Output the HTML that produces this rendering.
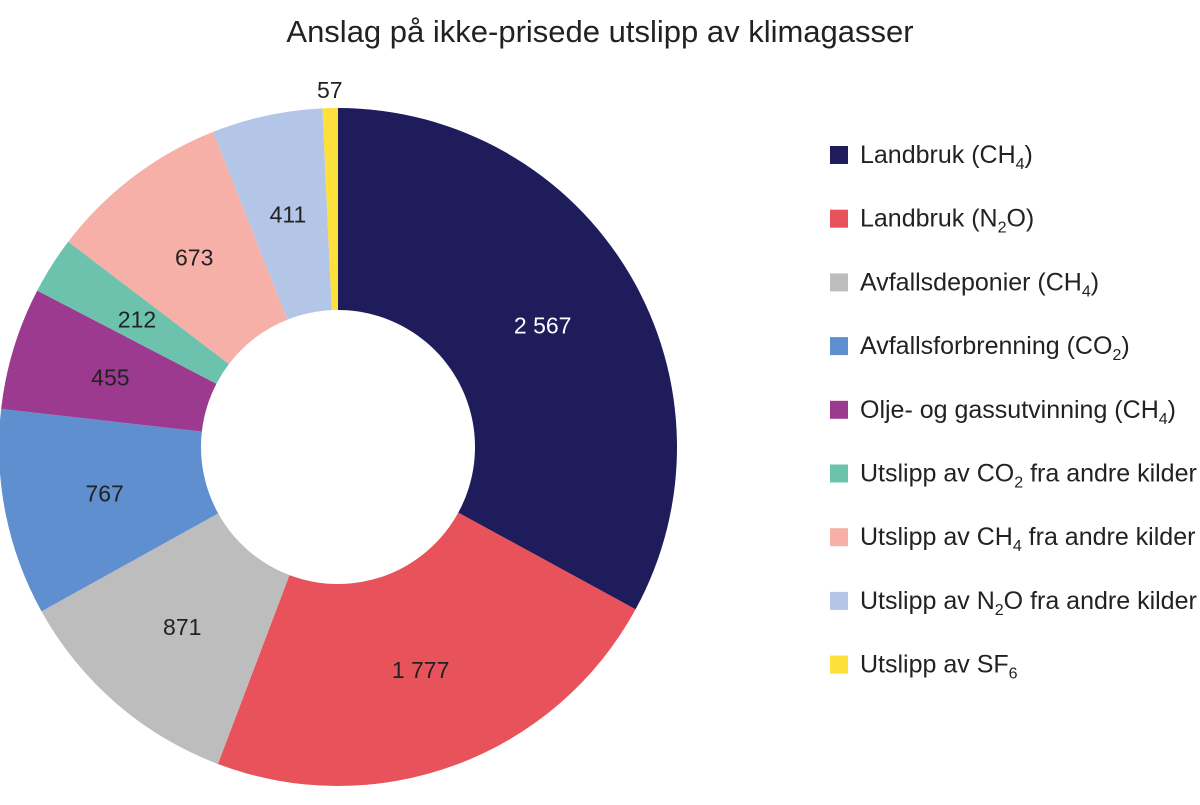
<!DOCTYPE html>
<html><head><meta charset="utf-8">
<style>
body{margin:0;background:#fff;width:1200px;height:800px;overflow:hidden;font-family:"Liberation Sans",sans-serif;}
svg text{font-family:"Liberation Sans",sans-serif;}
</style></head><body>
<svg id="chart" width="1200" height="800" xmlns="http://www.w3.org/2000/svg">
<text x="600" y="42" text-anchor="middle" font-size="31" fill="#222">Anslag på ikke-prisede utslipp av klimagasser</text>
<g id="slices"></g>
<g id="legend"></g>
</svg>
<script>
const categories = ["Landbruk (CH4)","Landbruk (N2O)","Avfallsdeponier (CH4)","Avfallsforbrenning (CO2)","Olje- og gassutvinning (CH4)","Utslipp av CO2 fra andre kilder","Utslipp av CH4 fra andre kilder","Utslipp av N2O fra andre kilder","Utslipp av SF6"];
const legendParts = [["Landbruk (CH","4",")"],["Landbruk (N","2","O)"],["Avfallsdeponier (CH","4",")"],["Avfallsforbrenning (CO","2",")"],["Olje- og gassutvinning (CH","4",")"],["Utslipp av CO","2"," fra andre kilder"],["Utslipp av CH","4"," fra andre kilder"],["Utslipp av N","2","O fra andre kilder"],["Utslipp av SF","6",""]];
const values = [2567,1777,871,767,455,212,673,411,57];
const valueLabels = ["2 567","1 777","871","767","455","212","673","411","57"];
const colors = ["#1f1c5c","#e8525a","#bdbdbd","#5f8fcf","#9b3a8f","#6cc2ad","#f6b0a8","#b3c6e8","#fde03b"];
const NS="http://www.w3.org/2000/svg";
const cx=338, cy=447, R=339, r=137;
const total=values.reduce((a,b)=>a+b,0);
const gS=document.getElementById('slices'), gL=document.getElementById('legend');
function pt(rad,a){return [cx+rad*Math.sin(a), cy-rad*Math.cos(a)];}
let acc=0;
values.forEach((v,i)=>{
  const a0=acc/total*2*Math.PI; acc+=v; const a1=acc/total*2*Math.PI;
  const large=(a1-a0)>Math.PI?1:0;
  const [x0,y0]=pt(R,a0),[x1,y1]=pt(R,a1),[x2,y2]=pt(r,a1),[x3,y3]=pt(r,a0);
  const p=document.createElementNS(NS,'path');
  p.setAttribute('d',`M${x0},${y0}A${R},${R} 0 ${large} 1 ${x1},${y1}L${x2},${y2}A${r},${r} 0 ${large} 0 ${x3},${y3}Z`);
  p.setAttribute('fill',colors[i]);
  
  
  gS.appendChild(p);
  const am=(a0+a1)/2;
  const small=v/total<0.02;
  const [lx,ly]=small?pt(R+18,am):pt((R+r)/2,am);
  const t=document.createElementNS(NS,'text');
  t.setAttribute('x',lx); t.setAttribute('y',ly+8);
  t.setAttribute('text-anchor','middle'); t.setAttribute('font-size','23');
  t.setAttribute('fill',i===0?'#fff':'#222');
  t.textContent=valueLabels[i];
  
  
  gS.appendChild(t);
});
categories.forEach((c,i)=>{
  const y=155+i*63.7;
  const g=document.createElementNS(NS,'g');
  
  
  const rc=document.createElementNS(NS,'rect');
  rc.setAttribute('x',830); rc.setAttribute('y',y-9); rc.setAttribute('width',18); rc.setAttribute('height',18);
  rc.setAttribute('fill',colors[i]);
  g.appendChild(rc);
  const t=document.createElementNS(NS,'text');
  t.setAttribute('x',860); t.setAttribute('y',y+8); t.setAttribute('font-size','25'); t.setAttribute('fill','#222');
  const [a,s,b]=legendParts[i];
  const s1=document.createElementNS(NS,'tspan'); s1.textContent=a; t.appendChild(s1);
  const s2=document.createElementNS(NS,'tspan'); s2.textContent=s; s2.setAttribute('font-size','16'); s2.setAttribute('dy','6'); t.appendChild(s2);
  const s3=document.createElementNS(NS,'tspan'); s3.textContent=b; s3.setAttribute('dy','-6'); t.appendChild(s3);
  g.appendChild(t);
  gL.appendChild(g);
});
</script>
</body></html>
